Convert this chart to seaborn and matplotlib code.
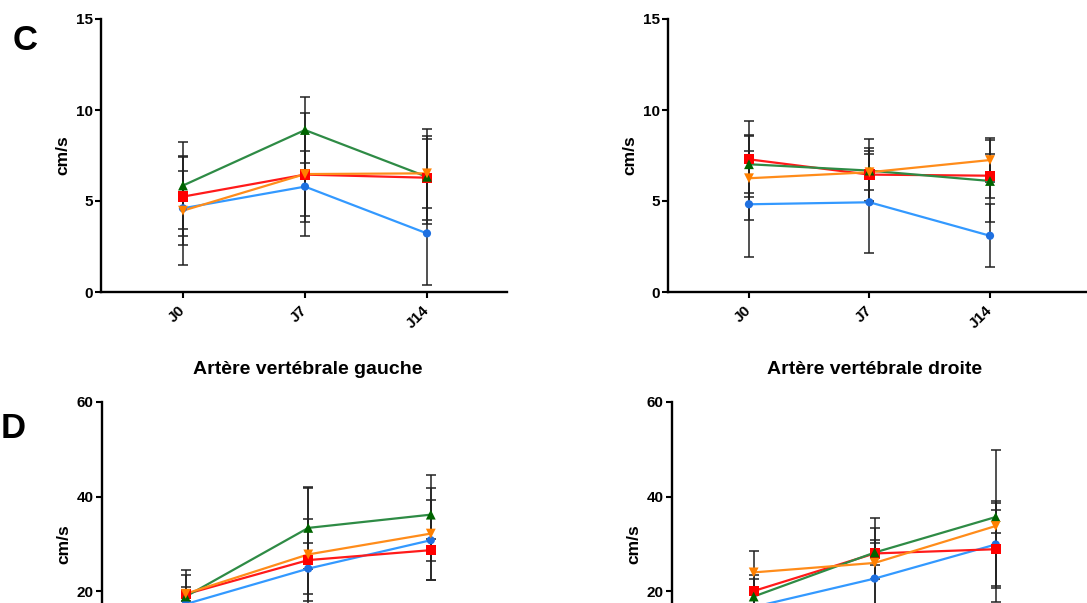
import numpy as np
import pandas as pd
import seaborn as sns
import matplotlib.pyplot as plt

days = ["J0", "J7", "J14"]
groups = ["G1", "G2", "G3", "G4"]

# C - gauche
c_g_blue = [4.6, 5.79, 3.22]
c_g_blue_sd = [2.04, 1.96, 2.85]
c_g_red = [5.24, 6.45, 6.28]
c_g_red_sd = [2.18, 3.36, 2.3]
c_g_green = [5.85, 8.9, 6.33]
c_g_green_sd = [2.4, 1.8, 2.6]
c_g_orange = [4.47, 6.48, 6.52]
c_g_orange_sd = [3.0, 2.3, 1.9]

# C - droite
c_d_blue = [4.82, 4.93, 3.09]
c_d_blue_sd = [2.91, 2.8, 1.73]
c_d_red = [7.29, 6.45, 6.39]
c_d_red_sd = [2.09, 1.45, 1.21]
c_d_green = [7.02, 6.67, 6.1]
c_d_green_sd = [1.6, 1.75, 2.25]
c_d_orange = [6.25, 6.58, 7.25]
c_d_orange_sd = [2.3, 1.0, 1.2]

# D - artere vertebrale gauche
d_g_blue = [17.3, 24.8, 30.8]
d_g_blue_sd = [3.0, 5.4, 8.5]
d_g_red = [19.4, 26.6, 28.7]
d_g_red_sd = [1.5, 8.6, 2.3]
d_g_green = [18.9, 33.4, 36.2]
d_g_green_sd = [5.7, 8.7, 8.4]
d_g_orange = [19.5, 27.8, 32.2]
d_g_orange_sd = [3.9, 14.0, 9.7]

# D - artere vertebrale droite
d_d_blue = [16.7, 22.7, 29.9]
d_d_blue_sd = [4.0, 7.6, 8.7]
d_d_red = [20.07, 28.0, 28.9]
d_d_red_sd = [3.3, 5.4, 8.3]
d_d_green = [18.9, 28.2, 35.7]
d_d_green_sd = [3.8, 2.6, 3.4]
d_d_orange = [24.0, 26.0, 33.8]
d_d_orange_sd = [4.5, 9.4, 16.0]

line_cols = {"G1": "#3399ff", "G2": "#ff1a1a", "G3": "#2e8b45", "G4": "#ff8c1a"}
mark_cols = {"G1": "#1f70e0", "G2": "#ff0000", "G3": "#006400", "G4": "#ff8000"}
mark_shapes = {"G1": "o", "G2": "s", "G3": "^", "G4": "v"}
mark_sizes = {"G1": 35, "G2": 55, "G3": 50, "G4": 50}

sns.set_style("ticks")
plt.rcParams["font.family"] = ["Liberation Sans", "DejaVu Sans"]
plt.rcParams["font.weight"] = "bold"
plt.rcParams["text.color"] = "black"
plt.rcParams["axes.edgecolor"] = "black"
plt.rcParams["axes.labelcolor"] = "black"
plt.rcParams["xtick.color"] = "black"
plt.rcParams["ytick.color"] = "black"


def make_df(means, sds):
    rows = []
    for g, m, s in zip(groups, means, sds):
        for d, v, e in zip(days, m, s):
            rows.append({"jour": d, "groupe": g, "vitesse": v, "sd": e})
    return pd.DataFrame(rows)


def draw(ax, df, ymax, yticks, xlim, show_x=True):
    xpos = {d: i for i, d in enumerate(days)}
    for g in groups:
        sub = df[df["groupe"] == g]
        ax.errorbar(sub["jour"].map(xpos), sub["vitesse"], yerr=sub["sd"], fmt="none",
                    ecolor="#222222", elinewidth=1.1, capsize=3.6, capthick=1.1, zorder=1)
    sns.lineplot(data=df, x="jour", y="vitesse", hue="groupe", palette=line_cols,
                 linewidth=1.6, legend=False, sort=False, ax=ax, zorder=2)
    sns.scatterplot(data=df, x="jour", y="vitesse", hue="groupe", style="groupe",
                    palette=mark_cols, markers=mark_shapes, size="groupe", sizes=mark_sizes,
                    linewidth=0, legend=False, ax=ax, zorder=3)
    ax.set_ylim(0, ymax)
    ax.set_xlim(*xlim)
    ax.set_yticks(yticks)
    ax.set_xticks(range(len(days)))
    if show_x:
        ax.set_xticklabels(days, rotation=45, ha="right", va="center", rotation_mode="anchor")
    else:
        ax.set_xticklabels([])
    ax.set_xlabel("")
    ax.set_ylabel("cm/s", fontsize=12.5, fontweight="bold")
    sns.despine(ax=ax)
    for sp in ["left", "bottom"]:
        ax.spines[sp].set_linewidth(1.7)
    ax.tick_params(axis="both", width=1.5, length=4.5, labelsize=11, pad=1.5)
    ax.tick_params(axis="x", pad=7)
    for lab in ax.get_xticklabels() + ax.get_yticklabels():
        lab.set_fontweight("bold")


W, H = 1087, 603
fig = plt.figure(figsize=(W / 100, H / 100), dpi=100)


def add_axes(left, top, right, bottom):
    return fig.add_axes([left / W, 1 - bottom / H, (right - left) / W, (bottom - top) / H])


ax1 = add_axes(101, 19, 507, 292)
draw(ax1, make_df([c_g_blue, c_g_red, c_g_green, c_g_orange],
                  [c_g_blue_sd, c_g_red_sd, c_g_green_sd, c_g_orange_sd]),
     15, [0, 5, 10, 15], (-0.672, 2.656))
ax1.yaxis.set_label_coords(-31 / 406, 0.5)

ax2 = add_axes(668, 19, 1095, 292)
draw(ax2, make_df([c_d_blue, c_d_red, c_d_green, c_d_orange],
                  [c_d_blue_sd, c_d_red_sd, c_d_green_sd, c_d_orange_sd]),
     15, [0, 5, 10, 15], (-0.672, (1095 - 749) / 120.5))
ax2.yaxis.set_label_coords(-31 / 427, 0.5)

# the D panels run past the bottom edge, as in the reference
ax3 = add_axes(102, 402, 508, 686)
draw(ax3, make_df([d_g_blue, d_g_red, d_g_green, d_g_orange],
                  [d_g_blue_sd, d_g_red_sd, d_g_green_sd, d_g_orange_sd]),
     60, [20, 40, 60], (-0.683, 2.63), show_x=False)
ax3.yaxis.set_label_coords(-31 / 406, 0.5)

ax4 = add_axes(672, 402, 1095, 686)
draw(ax4, make_df([d_d_blue, d_d_red, d_d_green, d_d_orange],
                  [d_d_blue_sd, d_d_red_sd, d_d_green_sd, d_d_orange_sd]),
     60, [20, 40, 60], (-0.675, (1095 - 753.7) / 121), show_x=False)
ax4.yaxis.set_label_coords(-31 / 423, 0.5)

fig.text(308 / W, 1 - 369 / H, "Artère vertébrale gauche", ha="center", va="center",
         fontsize=14, fontweight="bold")
fig.text(875 / W, 1 - 369 / H, "Artère vertébrale droite", ha="center", va="center",
         fontsize=14, fontweight="bold")

fig.text(25 / W, 1 - 40 / H, "C", ha="center", va="center", fontsize=25, fontweight="bold")
fig.text(1 / W, 1 - 428 / H, "D", ha="left", va="center", fontsize=25, fontweight="bold")

fig.savefig("out.png", dpi=100)
